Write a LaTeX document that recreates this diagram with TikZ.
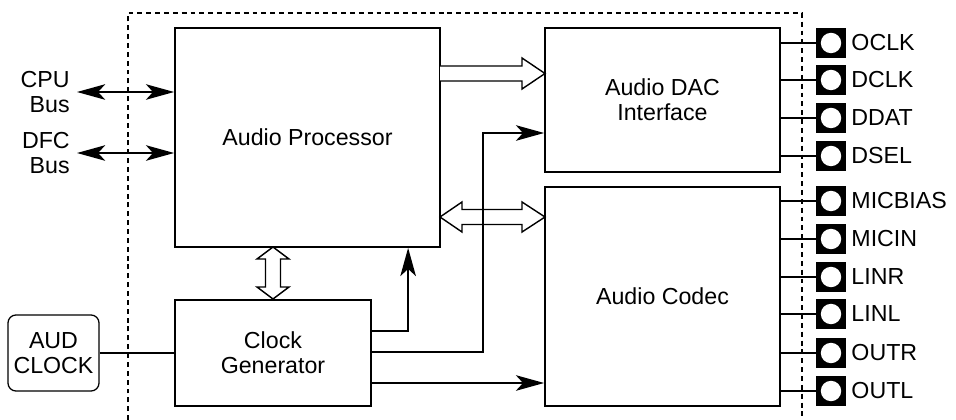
\documentclass[tikz,border=0pt]{standalone}
\usepackage{fontspec}
\setmainfont{Liberation Sans}
\usetikzlibrary{arrows.meta, calc}

\begin{document}
\begin{tikzpicture}[x=0.025cm, y=-0.025cm,
    font=\fontsize{16.5}{18}\selectfont,
    block/.style={rectangle, draw, line width=1.2pt, align=center, inner sep=0pt},
    jack/.style={rectangle, fill=black, minimum size=0.76cm, inner sep=0pt,
        path picture={\fill[white] (path picture bounding box.center) circle (0.255cm);}},
    wire/.style={line width=1pt},
    bus/.style={line width=1.5pt, {Stealth[length=20pt, width=11pt, inset=5pt]}-{Stealth[length=20pt, width=11pt, inset=5pt]}},
    flow/.style={line width=1.8pt, -{Stealth[length=20pt, width=11pt, inset=5pt]}},
    hollow/.style={line width=1pt, fill=white, line join=miter}]
    \useasboundingbox (0,0) rectangle (956,420);

    % Chip boundary
    \draw[line width=1.2pt, dash pattern=on 3.5pt off 2.8pt] (128,420) -- (128,13) -- (802,13) -- (802,420);

    % Blocks
    \node[block, minimum width=6.625cm, minimum height=5.475cm] (ap) at (307.5, 137.5) {Audio Processor};
    \node[block, minimum width=4.9cm, minimum height=2.65cm] (cg) at (273, 353) {Clock\\Generator};
    \node[block, minimum width=5.875cm, minimum height=3.6cm] (dac) at (662.5, 100) {Audio DAC\\Interface};
    \node[block, minimum width=5.875cm, minimum height=5.475cm] (codec) at (662.5, 296.5) {Audio Codec};
    \node[block, line width=0.9pt, rounded corners=0.2cm, minimum width=2.275cm, minimum height=1.9cm] (aud) at (53.5, 353) {AUD\\CLOCK};

    % External buses
    \node[anchor=east, align=right, inner sep=0pt] (cpu) at (70, 92) {CPU\\Bus};
    \node[anchor=east, align=right, inner sep=0pt] (dfc) at (70, 153) {DFC\\Bus};
    \draw[bus] ($(cpu.east)+(7,0)$) -- (cpu.east -| ap.west);
    \draw[bus] ($(dfc.east)+(7,0)$) -- (dfc.east -| ap.west);
    \draw[wire] (aud) -- (cg);

    % Hollow data paths
    \draw[hollow] (440,66) -- (522,66) -- (522,58) -- (545,73.5) -- (522,89) -- (522,81) -- (440,81);
    \draw[hollow] (462,209.5) -- (522,209.5) -- (522,202) -- (545,217) -- (522,232) -- (522,224.5)
        -- (462,224.5) -- (462,232) -- (440,217) -- (462,202) -- cycle;
    \draw[hollow] (265.5,259) -- (265.5,287) -- (257,287) -- (273,299) -- (289,287) -- (280.5,287)
        -- (280.5,259) -- (289,259) -- (273,247) -- (257,259) -- cycle;

    % Clock outputs
    \draw[flow] ($(cg.east)+(0,-22)$) -| ($(ap.south west)+(234,0)$);
    \draw[flow] ($(cg.east)+(0,-1)$) -| ($(dac.west)+(-61,33)$) -- ($(dac.west)+(0,33)$);
    \coordinate (c3) at ($(cg.east)+(0,30)$);
    \draw[flow] (c3) -- (c3 -| codec.west);

    % DAC pins
    \node[jack, label=right:OCLK] (oclk) at (831, 43) {};
    \node[jack, label=right:DCLK] (dclk) at (831, 80) {};
    \node[jack, label=right:DDAT] (ddat) at (831, 118) {};
    \node[jack, label=right:DSEL] (dsel) at (831, 156) {};
    \draw[wire] (oclk -| dac.east) -- (oclk);
    \draw[wire] (dclk -| dac.east) -- (dclk);
    \draw[wire] (ddat -| dac.east) -- (ddat);
    \draw[wire] (dsel -| dac.east) -- (dsel);

    % Codec pins
    \node[jack, label=right:MICBIAS] (micbias) at (831, 201) {};
    \node[jack, label=right:MICIN] (micin) at (831, 239) {};
    \node[jack, label=right:LINR] (linr) at (831, 277) {};
    \node[jack, label=right:LINL] (linl) at (831, 314) {};
    \node[jack, label=right:OUTR] (outr) at (831, 353) {};
    \node[jack, label=right:OUTL] (outl) at (831, 391) {};
    \draw[wire] (micbias -| codec.east) -- (micbias);
    \draw[wire] (micin -| codec.east) -- (micin);
    \draw[wire] (linr -| codec.east) -- (linr);
    \draw[wire] (linl -| codec.east) -- (linl);
    \draw[wire] (outr -| codec.east) -- (outr);
    \draw[wire] (outl -| codec.east) -- (outl);
\end{tikzpicture}
\end{document}
